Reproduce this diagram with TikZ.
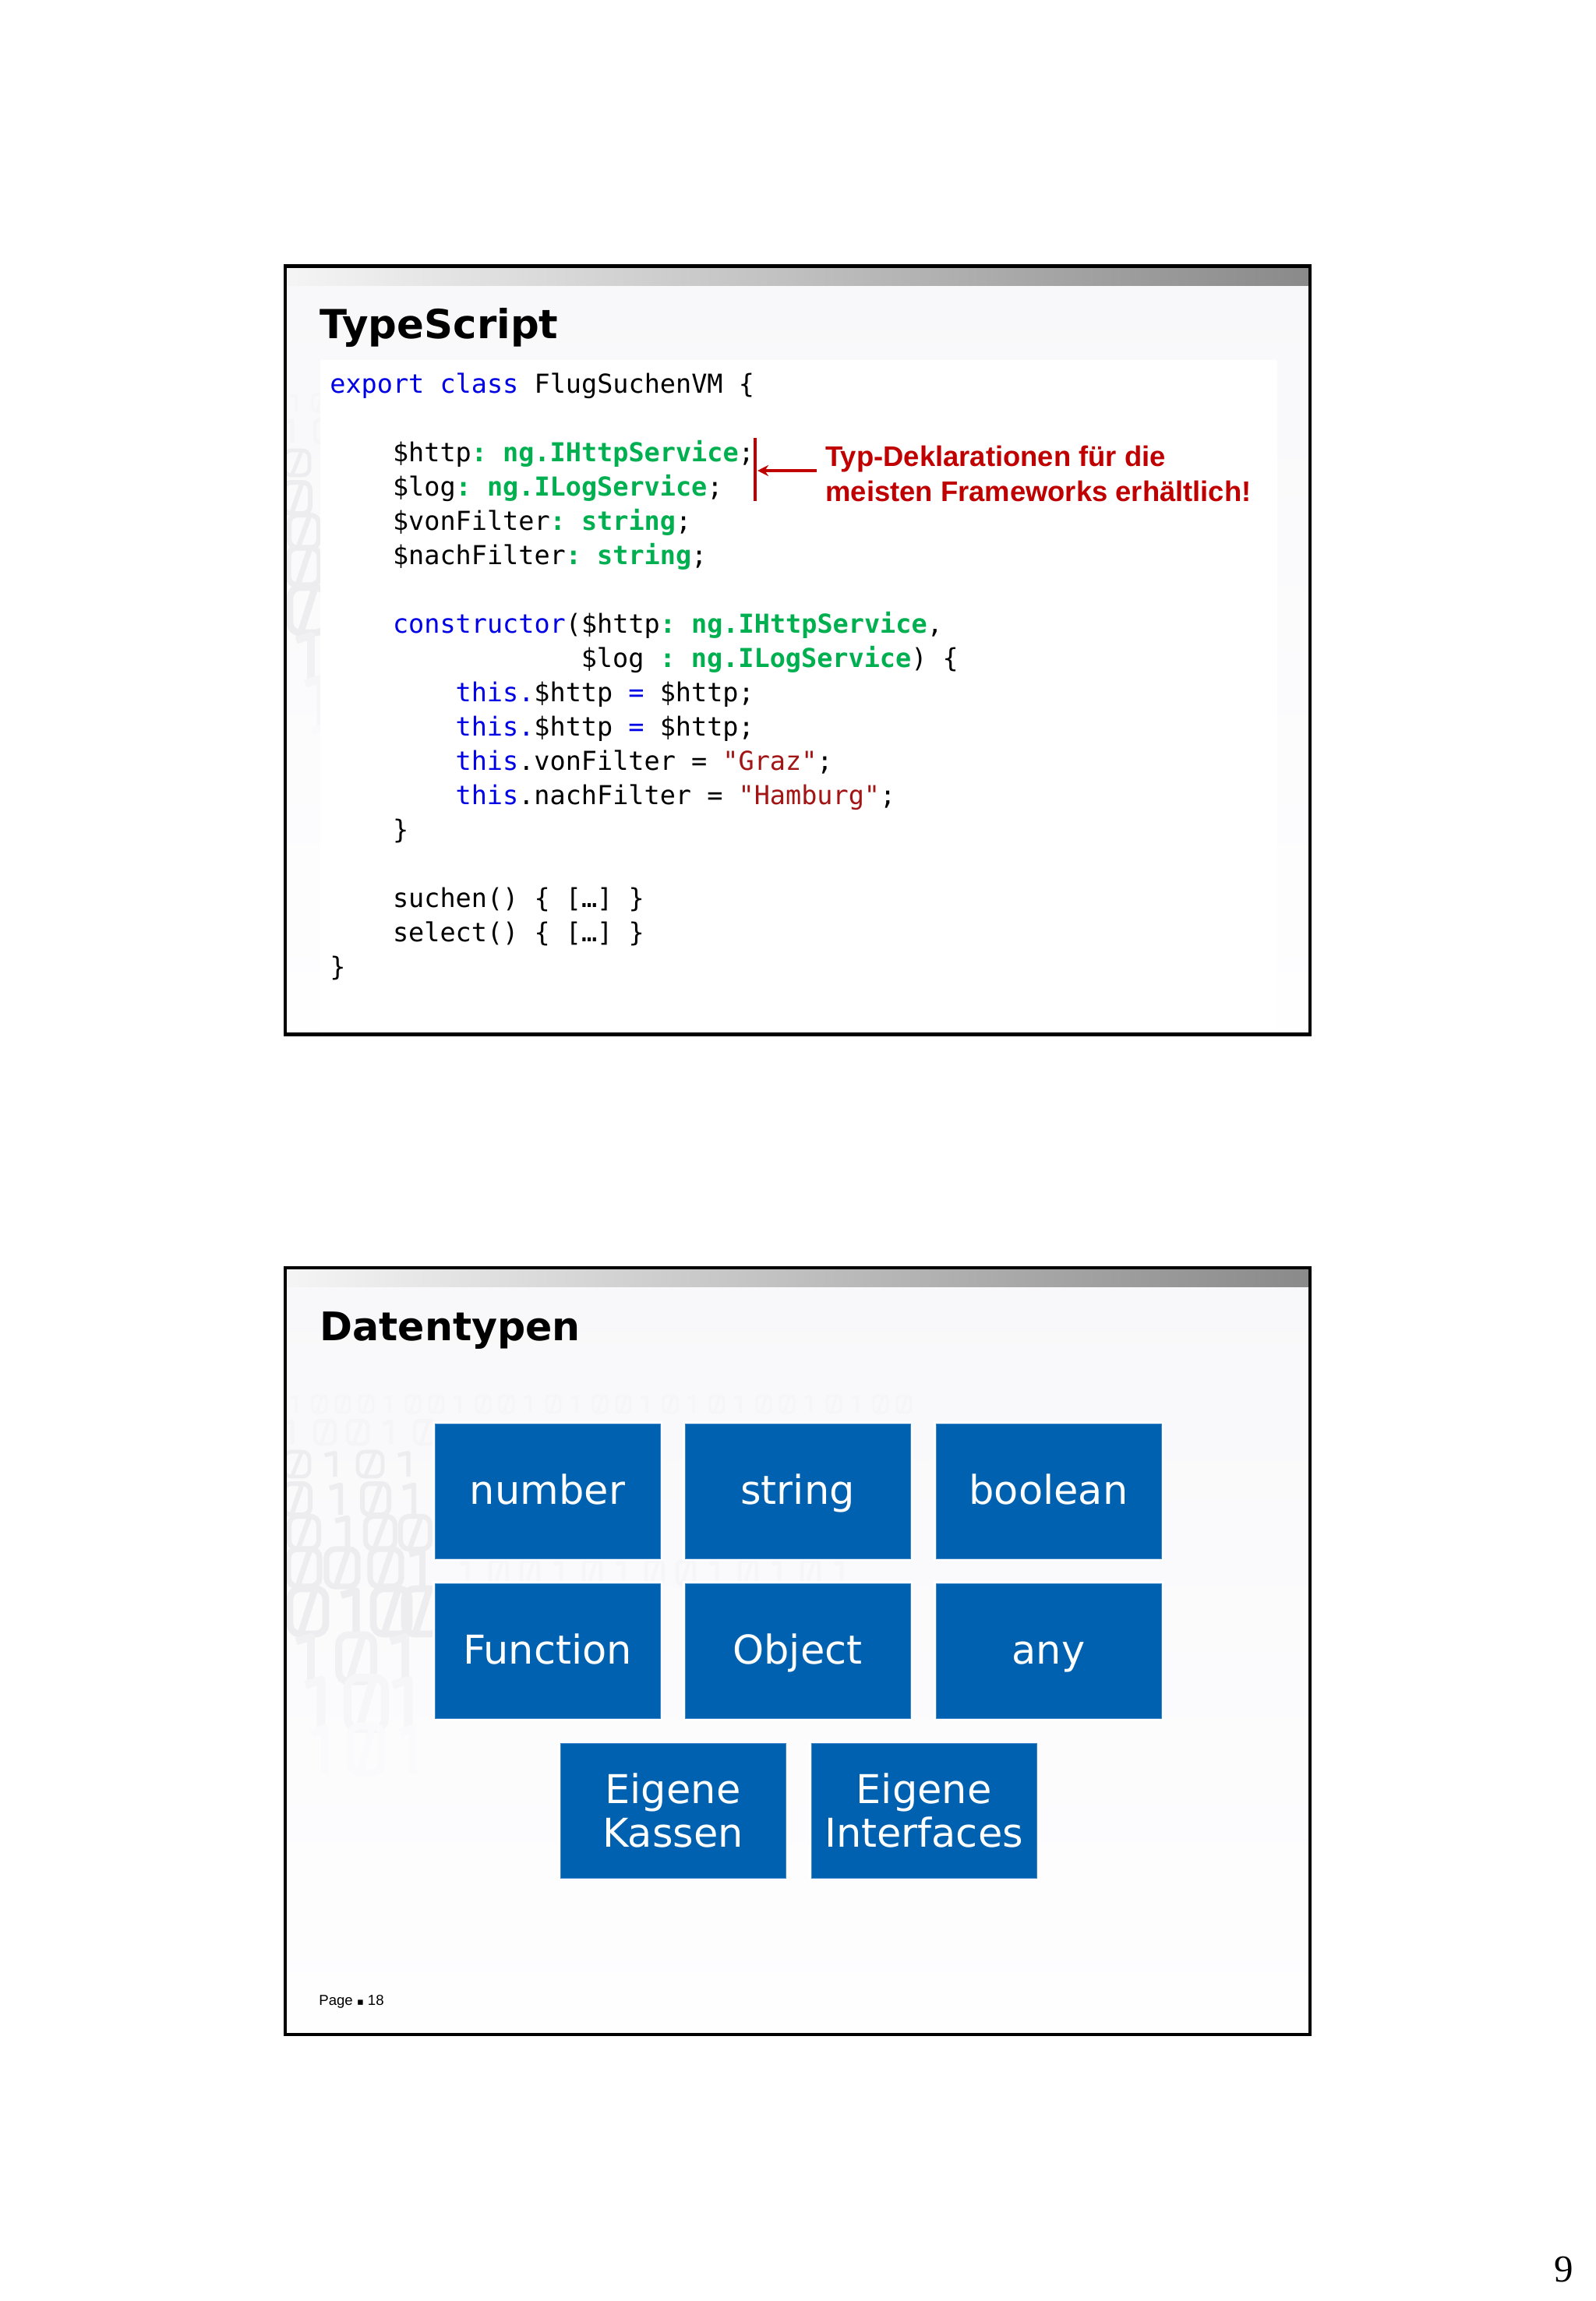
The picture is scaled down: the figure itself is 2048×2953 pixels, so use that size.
\documentclass[tikz,border=0pt]{standalone}
\usepackage{fontspec}
\setmainfont{DejaVu Sans}
\newfontfamily\codefont{DejaVu Sans Mono}
\newfontfamily\arialfont{Liberation Sans}
\newfontfamily\timesfont{Liberation Serif}
\newfontfamily\dejavufont{DejaVu Sans}
\usetikzlibrary{arrows.meta}
\definecolor{boxblue}{HTML}{0061B0}
\definecolor{boxedge}{HTML}{3A86C8}
\definecolor{codegreen}{HTML}{00B050}
\definecolor{codeblue}{HTML}{0000E6}
\definecolor{codestr}{HTML}{A31515}
\definecolor{notered}{HTML}{C00000}
\definecolor{bgtop}{HTML}{F8F8FA}
\definecolor{bgbot}{HTML}{FEFEFF}
\definecolor{wma}{HTML}{EDEDEF}
\definecolor{wmb}{HTML}{F1F1F3}
\definecolor{wmc}{HTML}{F5F5F7}
\definecolor{wmd}{HTML}{F6F6F8}
\definecolor{wme}{HTML}{FAFAFC}
\newcommand{\cK}[1]{\textcolor{codeblue}{#1}}
\newcommand{\cT}[1]{\textcolor{codegreen}{\bfseries #1}}
\newcommand{\cS}[1]{\textcolor{codestr}{#1}}
% watermark digits, drawn as shapes: x y w h colour
\newcommand{\wmzero}[5]{%
  \draw[#5,line width=#4*0.075pt,rounded corners=#3*0.14pt] ({#1-#3/2},{#2-#4/2}) rectangle ({#1+#3/2},{#2+#4/2});
  \draw[#5,line width=#4*0.075pt] ({#1-#3/5},{#2+#4/2}) -- ({#1+#3/5},{#2-#4/2});}
\newcommand{\wmone}[5]{%
  \draw[#5,line width=#4*0.08pt,line join=round] ({#1-#3/2.4},{#2-#4/2.8}) -- ({#1},{#2-#4/2.2}) -- ({#1},{#2+#4/2});}
\newcommand{\wmrow}[5]{% y w h colour list
  \foreach \kind/\xx in {#5} {%
    \ifnum\kind=0 \wmzero{\xx}{#1}{#2}{#3}{#4}\else \wmone{\xx}{#1}{#2}{#3}{#4}\fi}}
\newcommand{\wmall}{%
  \wmrow{1802}{18}{22}{wmd}{1/380,0/410,0/440,0/470,1/500,0/530,0/560,1/590,0/620,0/650,1/680,0/710,1/740,0/770,0/800,1/830,0/860,1/890,0/920,1/950,0/980,0/1010,1/1040,0/1070,1/1100,0/1130,0/1160}
  \wmrow{1838}{26}{30}{wmc}{1/375,0/417,0/459,1/502,0/545}
  \wmrow{1879}{32}{32}{wma}{0/381,1/430,0/475,1/524}
  \wmrow{1924}{34}{40}{wma}{0/381,1/437,0/482,1/531}
  \wmrow{1967}{38}{42}{wma}{0/390,1/446,0/488,0/533}
  \wmrow{2012}{40}{48}{wma}{0/390,0/439,0/495,1/542}
  \wmrow{2018}{22}{30}{wmd}{1/600,0/640,0/680,1/720,0/760,1/800,0/840,0/880,1/920,0/960,1/1000,0/1040,1/1080}
  \wmrow{2068}{46}{58}{wma}{0/395,1/457,0/502,0/542}
  \wmrow{2128}{45}{60}{wmb}{1/399,0/457,1/520}
  \wmrow{2186}{48}{66}{wmd}{1/412,0/470,1/524}
  \wmrow{2245}{40}{60}{wme}{1/417,0/470,1/530}
}
\tikzset{
  framebox/.style={draw=black,line width=2.2pt},
  slidebg/.style={top color=bgtop,bottom color=bgbot},
  topbar/.style={left color=white!96!black,right color=black!46,draw=none},
  codetxt/.style={anchor=base west,inner sep=0pt,font=\codefont\fontsize{16.75}{20}\selectfont\frenchspacing,text=black},
  slidetitle/.style={anchor=base west,inner sep=0pt,font=\fontsize{25.4}{30}\selectfont\bfseries,text=black},
  tile/.style={fill=boxblue,draw=boxedge,line width=0.5pt,text=white,inner sep=0pt,minimum width=144.5pt,minimum height=86.5pt,
    font=\fontsize{25.5}{28}\selectfont,align=center,preaction={draw=white,line width=3pt}},
  tileone/.style={tile,text height=22pt,text depth=5pt},
  rednote/.style={anchor=base west,inner sep=0pt,align=left,text=notered,font=\arialfont\bfseries\fontsize{18.2}{22.5}\selectfont},
  redline/.style={draw=notered,line width=1.7pt},
  redarrow/.style={redline,-{Stealth[length=7pt,width=7pt]}},
}
\newcommand{\codeline}[4]{\node[codetxt] (#1) at ({423+20.15*#2},{504+44*#3}) {#4};}
\begin{document}
\begin{tikzpicture}[x=0.5pt,y=-0.5pt]
\useasboundingbox (0,0) rectangle (2048,2953);
\fill[white] (0,0) rectangle (2048,2953);
% --- slide 1
\begin{scope}
  \clip (366,341) rectangle (1681,1328);
  \shade[slidebg] (366,341) rectangle (1681,1328);
  \begin{scope}[shift={(0,-1285)}]\wmall\end{scope}
  \fill[white] (411,462) rectangle (1639,1325);
  \fill[topbar] (366,343) rectangle (1681,367);
\end{scope}
\draw[framebox] (366,341.5) rectangle (1681,1327.5);
\node[slidetitle,font=\fontsize{25.7}{30}\selectfont\bfseries] (title1) at (410,435) {TypeScript};
\codeline{c0}{0}{0}{\cK{export class} FlugSuchenVM \{}
\codeline{c2}{4}{2}{\$http\cT{:} \cT{ng.IHttpService};}
\codeline{c3}{4}{3}{\$log\cT{:} \cT{ng.ILogService};}
\codeline{c4}{4}{4}{\$vonFilter\cT{:} \cT{string};}
\codeline{c5}{4}{5}{\$nachFilter\cT{:} \cT{string};}
\codeline{c7}{4}{7}{\cK{constructor}(\$http\cT{:} \cT{ng.IHttpService},}
\codeline{c8}{16}{8}{\$log \cT{:} \cT{ng.ILogService}) \{}
\codeline{c9}{8}{9}{\cK{this.}\$http \cK{=} \$http;}
\codeline{c10}{8}{10}{\cK{this.}\$http \cK{=} \$http;}
\codeline{c11}{8}{11}{\cK{this}.vonFilter = \cS{"Graz"};}
\codeline{c12}{8}{12}{\cK{this}.nachFilter = \cS{"Hamburg"};}
\codeline{c13}{4}{13}{\}}
\codeline{c15}{4}{15}{suchen() \{ […] \}}
\codeline{c16}{4}{16}{select() \{ […] \}}
\codeline{c17}{0}{17}{\}}
\coordinate (bartop) at (969,562);
\coordinate (barbot) at (969,643);
\coordinate (arrowfrom) at (1048,604);
\coordinate (arrowto) at (972,604);
\draw[redline] (bartop) -- (barbot);
\draw[redarrow] (arrowfrom) -- (arrowto);
\node[rednote] (note) at (1059,643) {Typ-Deklarationen für die\\meisten Frameworks erhältlich!};
% --- slide 2
\begin{scope}
  \clip (366,1627) rectangle (1681,2611);
  \shade[slidebg] (366,1627) rectangle (1681,2611);
  \wmall
  \fill[topbar] (366,1629) rectangle (1681,1651);
\end{scope}
\draw[framebox] (366,1627) rectangle (1681,2611);
\node[slidetitle,font=\fontsize{25.3}{30}\selectfont\bfseries] (title2) at (410,1720) {Datentypen};
\node[tileone] (number) at (702.5,1913.5) {number};
\node[tileone] (string) at (1023.5,1913.5) {string};
\node[tileone] (boolean) at (1345.5,1913.5) {boolean};
\node[tileone] (function) at (702.5,2118.5) {Function};
\node[tileone] (object) at (1023.5,2118.5) {Object};
\node[tileone] (any) at (1345.5,2118.5) {any};
\node[tile] (kassen) at (863.5,2323.5) {Eigene\\Kassen};
\node[tile] (interfaces) at (1185.5,2323.5) {Eigene\\Interfaces};
\node[anchor=base west,inner sep=0pt,font=\arialfont\fontsize{9.3}{11}\selectfont] (pagelabel) at (409,2573) {Page {\dejavufont\fontsize{6.5}{8}\selectfont ▪} 18};
\node[anchor=base west,inner sep=0pt,font=\timesfont\fontsize{24.5}{28}\selectfont] (pagenum) at (1994,2928) {9};
\end{tikzpicture}
\end{document}
